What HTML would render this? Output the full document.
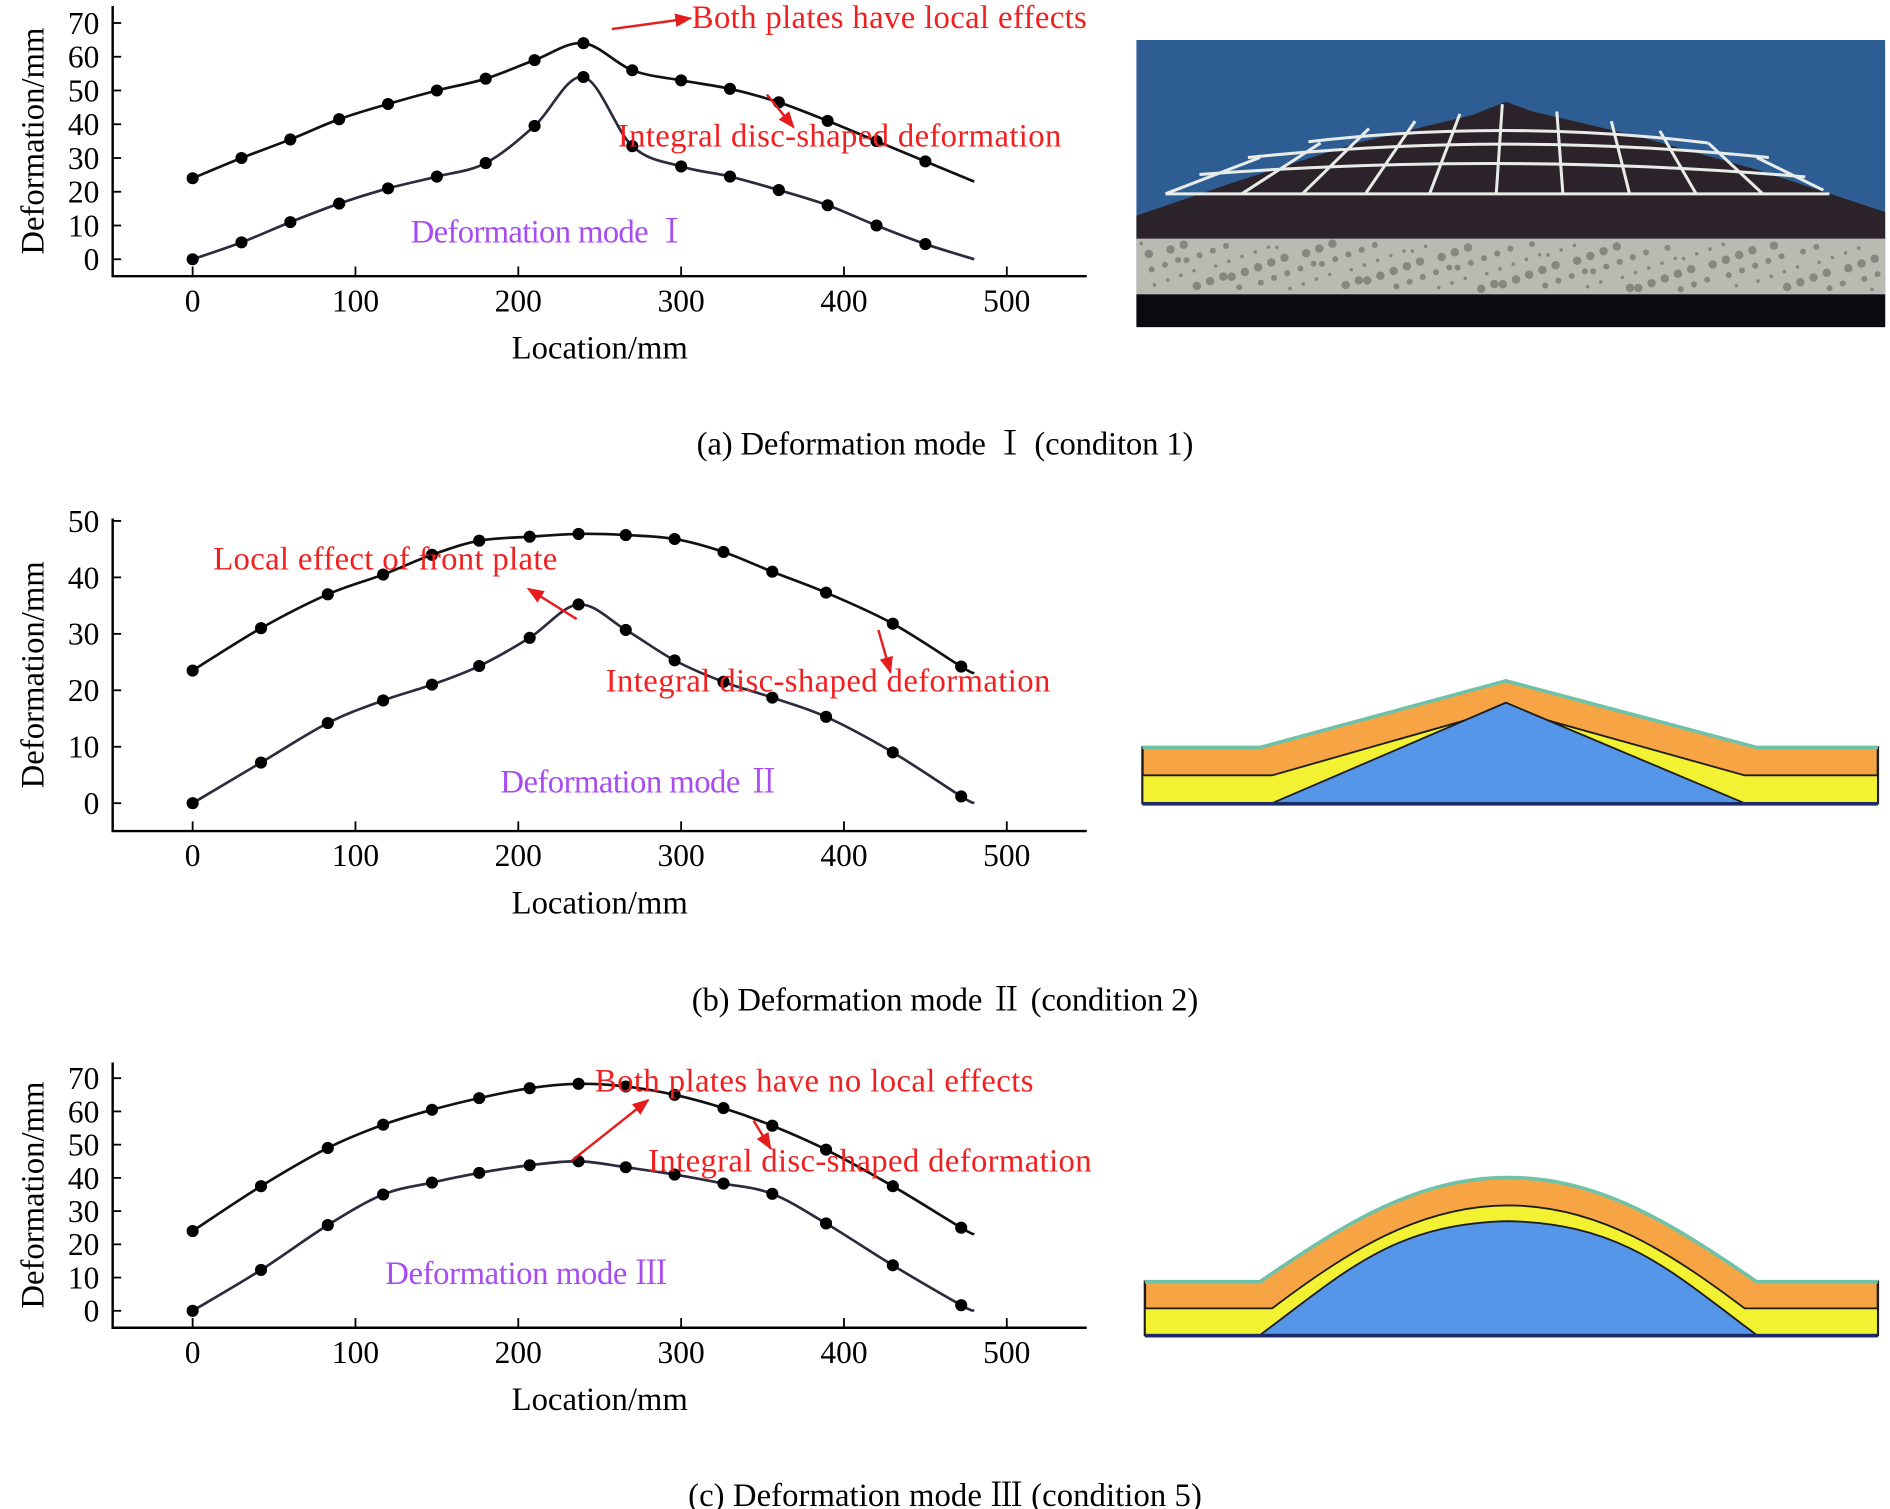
<!DOCTYPE html>
<html><head><meta charset="utf-8"><style>
html,body{margin:0;padding:0;background:#fff}
svg{display:block}
text{font-family:"Liberation Serif","Noto Serif CJK SC",serif}
</style></head><body>
<svg id="fig" width="1890" height="1509" viewBox="0 0 1560 1245.6" preserveAspectRatio="none" xmlns="http://www.w3.org/2000/svg">
<defs>
<marker id="arr" viewBox="0 0 10 10" refX="9" refY="5" markerWidth="7" markerHeight="7" orient="auto"><path d="M0,1 L10,5 L0,9 z" fill="#e81c1c"/></marker>
</defs>
<g id="charts"></g>

<g>
<rect x="938" y="33" width="618" height="237" fill="#2e5d93"/>
<path d="M938,178 L1020,150 L1120,118 L1215,95 L1243,84 L1265,92 L1350,112 L1450,140 L1556,175 L1556,198 L938,198 Z" fill="#2b2329"/>
<g stroke="#e8ece8" stroke-width="2.5" fill="none">
<path d="M962,160 L1510,160"/><path d="M990,144 Q1243,125 1490,146"/><path d="M1030,130 Q1243,108 1460,130"/><path d="M1080,117 Q1243,98 1410,118"/>
<path d="M962,160 L1040,130"/><path d="M1025,160 L1090,118"/><path d="M1075,160 L1130,106"/><path d="M1127,160 L1168,100"/><path d="M1180,160 L1205,94"/><path d="M1235,160 L1240,86"/><path d="M1290,160 L1285,92"/><path d="M1345,160 L1330,100"/><path d="M1400,160 L1370,108"/><path d="M1455,160 L1410,118"/><path d="M1505,157 L1450,130"/>
</g>
<rect x="938" y="197" width="618" height="46" fill="#b9bab2"/>
<g fill="#5d5f5a" opacity="0.55" id="foam"></g>
<rect x="938" y="243" width="618" height="27" fill="#0b0a10"/>
</g>

<g>
<path d="M943,617 L1040,617 L1243,562 L1450,617 L1550,617 L1550,663 L943,663 Z" fill="#f6a444" stroke="#1d1d1d" stroke-width="2"/>
<path d="M943,640 L1050,640 L1243,585 L1440,640 L1550,640 L1550,663 L943,663 Z" fill="#f2f232" stroke="#1d1d1d" stroke-width="1.5"/>
<path d="M1050,663 L1243,580 L1440,663 Z" fill="#5596e8" stroke="#1d1d1d" stroke-width="1.5"/>
<path d="M943,617 L1040,617 L1243,562 L1450,617 L1550,617" fill="none" stroke="#6fc2a8" stroke-width="3"/>
<rect x="943" y="662" width="607" height="3" fill="#1c2a6a"/>
</g>

<g>
<path d="M945,1058 L1040,1058 C1110,1010 1170,972 1245,972 C1320,972 1380,1010 1450,1058 L1550,1058 L1550,1102 L945,1102 Z" fill="#f6a444" stroke="#1d1d1d" stroke-width="2"/>
<path d="M945,1080 L1050,1080 C1110,1035 1170,995 1245,995 C1320,995 1380,1035 1440,1080 L1550,1080 L1550,1102 L945,1102 Z" fill="#f2f232" stroke="#1d1d1d" stroke-width="1.5"/>
<path d="M1040,1102 C1110,1050 1150,1010 1245,1008 C1340,1010 1380,1050 1450,1102 Z" fill="#5596e8" stroke="#1d1d1d" stroke-width="1.5"/>
<path d="M945,1058 L1040,1058 C1110,1010 1170,972 1245,972 C1320,972 1380,1010 1450,1058 L1550,1058" fill="none" stroke="#6fc2a8" stroke-width="3"/>
<rect x="945" y="1101" width="605" height="3" fill="#1c2a6a"/>
</g>

<text x="780" y="375" font-size="27" text-anchor="middle" textLength="410">(a) Deformation mode Ⅰ (conditon 1)</text>
<text x="780" y="834" font-size="27" text-anchor="middle" textLength="418">(b) Deformation mode Ⅱ (condition 2)</text>
<text x="780" y="1243" font-size="27" text-anchor="middle" textLength="424">(c) Deformation mode Ⅲ (condition 5)</text>
</svg>
<script>
// ---- data ----
const xA = [0,30,60,90,120,150,180,210,240,270,300,330,360,390,420,450];
const upperA = [24,30,35.5,41.5,46,50,53.5,59,64,56,53,50.5,46.5,41,35,29];
const lowerA = [0,5,11,16.5,21,24.5,28.5,39.5,54,33.5,27.5,24.5,20.5,16,10,4.5];
const endUpperA = 23, endLowerA = 0;
const xB = [0,42,83,117,147,176,207,237,266,296,326,356,389,430,472];
const upperB = [23.5,31,37,40.5,44,46.5,47.2,47.7,47.5,46.8,44.5,41,37.3,31.8,24.2];
const lowerB = [0,7.2,14.2,18.2,21,24.3,29.3,35.2,30.7,25.3,21.5,18.7,15.3,9,1.2];
const endUpperB = 23, endLowerB = 0;
const xC = [0,42,83,117,147,176,207,237,266,296,326,356,389,430,472];
const upperC = [24,37.5,49,56,60.5,64,67,68.3,67.5,65,61,55.7,48.5,37.5,25];
const lowerC = [0,12.3,25.8,35,38.6,41.5,43.8,45,43.2,41,38.3,35.2,26.3,13.7,1.7];
const endUpperC = 23, endLowerC = 0;
const xTicks = [0,100,200,300,400,500];
const yTicksA = [0,10,20,30,40,50,60,70];
const yTicksB = [0,10,20,30,40,50];
const yTicksC = [0,10,20,30,40,50,60,70];
const xEnd = 480;

const NS = 'http://www.w3.org/2000/svg';
const root = document.getElementById('charts');
function mk(tag, attrs, parent){const e=document.createElementNS(NS,tag);for(const k in attrs)e.setAttribute(k,attrs[k]);(parent||root).appendChild(e);return e;}
function smooth(pts){let d='M'+pts[0][0]+','+pts[0][1];for(let i=0;i<pts.length-1;i++){const p0=pts[Math.max(0,i-1)],p1=pts[i],p2=pts[i+1],p3=pts[Math.min(pts.length-1,i+2)];const t=6;d+=' C'+(p1[0]+(p2[0]-p0[0])/t)+','+(p1[1]+(p2[1]-p0[1])/t)+' '+(p2[0]-(p3[0]-p1[0])/t)+','+(p2[1]-(p3[1]-p1[1])/t)+' '+p2[0]+','+p2[1];}return d;}

function chart(cfg){
  const g = mk('g',{});
  
  
  const sx = v => 159 + v*1.344;
  const sy = v => cfg.y0 - v*cfg.k;
  const ax = mk('path',{d:'M93,'+cfg.top+' L93,'+cfg.base+' L897,'+cfg.base,stroke:'#000','stroke-width':2,fill:'none'},g);
  
  
  cfg.yt.forEach(v=>{
    mk('line',{x1:93,x2:100,y1:sy(v),y2:sy(v),stroke:'#000','stroke-width':1.5},g);
    const t=mk('text',{x:82,y:sy(v)+9,'font-size':26,'text-anchor':'end'},g);t.textContent=v;
    
    
  });
  xTicks.forEach(v=>{
    mk('line',{x1:sx(v),x2:sx(v),y1:cfg.base,y2:cfg.base-8,stroke:'#000','stroke-width':1.5},g);
    const t=mk('text',{x:sx(v),y:cfg.base+29,'font-size':26,'text-anchor':'middle'},g);t.textContent=v;
    
    
  });
  const xl=mk('text',{x:495,y:cfg.base+68,'font-size':27,'text-anchor':'middle'},g);xl.textContent='Location/mm';
  
  
  const yc=(cfg.top+cfg.base)/2;
  const yl=mk('text',{x:0,y:0,'font-size':27,'text-anchor':'middle',transform:'translate(36,'+yc+') rotate(-90)'},g);yl.textContent='Deformation/mm';
  
  
  [[cfg.up,cfg.eu,'#111','upper-curve'],[cfg.lo,cfg.el,'#2c2a3c','lower-curve']].forEach(([arr,end,col,nm])=>{
    const pts=cfg.x.map((v,i)=>[sx(v),sy(arr[i])]);pts.push([sx(xEnd),sy(end)]);
    const p=mk('path',{d:smooth(pts),stroke:col,'stroke-width':2.2,fill:'none'},g);
    
    
    cfg.x.forEach((v,i)=>{
      const c=mk('circle',{cx:sx(v),cy:sy(arr[i]),r:5,fill:'#000'},g);
      
      
    });
  });
  cfg.notes.forEach(n=>{
    const t=mk('text',{x:n[0],y:n[1],'font-size':27,fill:n[2],textLength:n[4]},g);t.textContent=n[3];
    
    
  });
  cfg.arrows.forEach(a=>{
    const l=mk('line',{x1:a[0],y1:a[1],x2:a[2],y2:a[3],stroke:'#e81c1c','stroke-width':2,'marker-end':'url(#arr)'},g);
    
    
  });
}
const RED='#f02020', PUR='#a64cf0';
chart({name:'chart-mode-1',top:5,base:228,y0:214,k:2.786,yt:yTicksA,x:xA,up:upperA,lo:lowerA,eu:endUpperA,el:endLowerA,
  notes:[[571,23,RED,'Both plates have local effects',326],[510,121,RED,'Integral disc-shaped deformation',366],[339,200,PUR,'Deformation mode Ⅰ',229]],
  arrows:[[505,24,570,15],[633,78,655,105]]});
chart({name:'chart-mode-2',top:428,base:686,y0:663,k:4.66,yt:yTicksB,x:xB,up:upperB,lo:lowerB,eu:endUpperB,el:endLowerB,
  notes:[[176,470,RED,'Local effect of front plate',284],[500,571,RED,'Integral disc-shaped deformation',367],[413,654,PUR,'Deformation mode Ⅱ',231]],
  arrows:[[476,511,436,486],[725,520,735,555]]});
chart({name:'chart-mode-3',top:877,base:1096,y0:1082,k:2.743,yt:yTicksC,x:xC,up:upperC,lo:lowerC,eu:endUpperC,el:endLowerC,
  notes:[[491,901,RED,'Both plates have no local effects',362],[535,967,RED,'Integral disc-shaped deformation',366],[318,1060,PUR,'Deformation mode Ⅲ',233]],
  arrows:[[472,958,535,908],[622,925,636,948]]});
const foam=document.getElementById('foam');
for(let i=0;i<160;i++){const c=document.createElementNS(NS,'circle');c.setAttribute('cx',942+(i*37.3)%610);c.setAttribute('cy',201+(i*13.7)%38);c.setAttribute('r',1.5+(i%3));foam.appendChild(c);}
</script>
</body></html>
